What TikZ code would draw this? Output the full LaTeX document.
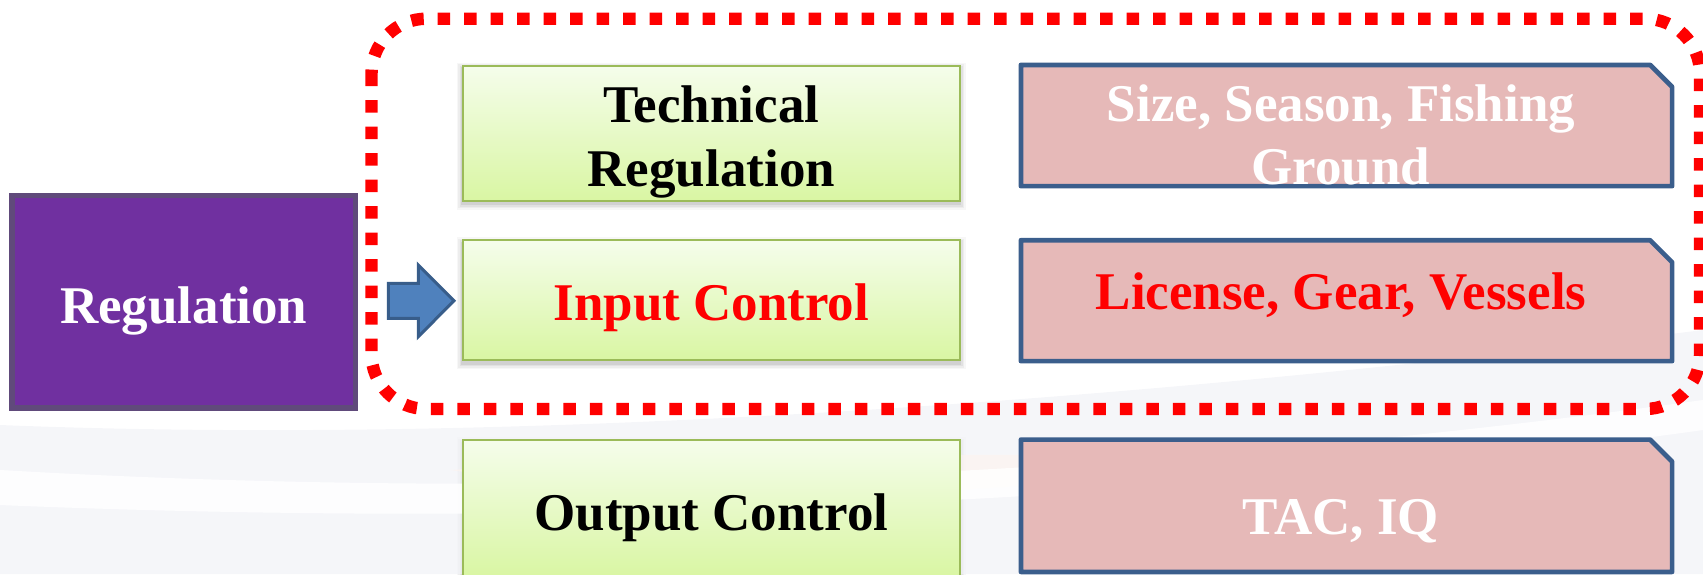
\documentclass[tikz,border=0pt]{standalone}
\usepackage{fontspec}
\setmainfont{Liberation Serif}
\usetikzlibrary{backgrounds}

\definecolor{regfill}{HTML}{7030A0}
\definecolor{regedge}{HTML}{604A7B}
\definecolor{greentop}{HTML}{F5FDEB}
\definecolor{greenbot}{HTML}{D9F6A3}
\definecolor{greenedge}{HTML}{9BBB59}
\definecolor{pinkfill}{HTML}{E6B9B8}
\definecolor{pinkedge}{HTML}{3B5E8C}
\definecolor{arrowfill}{HTML}{4F81BD}
\definecolor{arrowedge}{HTML}{385D8A}
\definecolor{swooshgray}{HTML}{F1F2F7}
\definecolor{swooshpeach}{HTML}{FDF3EE}

\begin{document}
\begin{tikzpicture}[x=0.5pt,y=-0.5pt,
  label font/.style={font=\bfseries\fontsize{26.5}{31.5}\selectfont},
  regbox/.style={draw=regedge, fill=regfill, line width=2.75pt, inner sep=0,
    minimum width=171.7pt, minimum height=106.25pt},
  greenbox/.style={draw=greenedge, line width=1pt, top color=greentop,
    bottom color=greenbot, inner sep=0, minimum width=248.65pt},
  pinkslot/.style={rectangle, inner sep=0, minimum width=325.2pt},
  pinkframe/.style={draw=pinkedge, fill=pinkfill, line width=2.35pt, line join=round},
  boxtext/.style={label font, anchor=base, inner sep=0},
  groupframe/.style={draw=red, line width=6.2pt, dash pattern=on 6.25pt off 7pt,
    rounded corners=27.5pt},
  blockarrow/.style={fill=arrowfill, draw=arrowedge, line width=1.5pt, line join=miter}
]
\useasboundingbox (0,0) rectangle (1703,574);
\clip (0,0) rectangle (1703,574);

% faint backdrop swooshes
\fill[swooshgray, opacity=0.7] (0,425) .. controls (500,445) and (1100,405) .. (1703,330)
  -- (1703,574) -- (0,574) -- cycle;
\fill[swooshpeach, opacity=0.6] (450,470) .. controls (700,455) and (1000,450) .. (1250,460)
  .. controls (1000,500) and (700,505) .. (450,470) -- cycle;
\fill[white, opacity=0.85] (0,470) .. controls (600,505) and (1200,470) .. (1703,400)
  -- (1703,430) .. controls (1200,500) and (600,530) .. (0,505) -- cycle;

% left box
\node[regbox] (reg) at (183.7,301.7) {};
\node[boxtext, text=white] (regtxt) at (183.7,323.5) {Regulation};

% middle column
\node[greenbox, minimum height=67.5pt] (tech) at (711.3,133.2) {};
\node[greenbox, minimum height=60pt]   (input) at (711.3,300) {};
\node[greenbox, minimum height=68.5pt] (output) at (711.3,508.5) {};

% right column: slots, then chamfered outlines drawn from their corners
\node[pinkslot, minimum height=60.2pt]  (techex) at (1346.5,125.5) {};
\node[pinkslot, minimum height=60.05pt] (inputex) at (1346.5,300.65) {};
\node[pinkslot, minimum height=65.75pt] (outputex) at (1346.5,505.75) {};
\foreach \p in {techex,inputex,outputex}{
  \draw[pinkframe] (\p.south west) -- (\p.north west) -- ([xshift=-11pt]\p.north east)
    -- ([yshift=-11pt]\p.north east) -- (\p.south east) -- cycle;
}

% texts
\node[boxtext] (techA) at (711.3,122.7) {Technical};
\node[boxtext] (techB) at (711.3,186.8) {Regulation};
\node[boxtext, text=red] (inputtxt) at (711.3,320) {Input Control};
\node[boxtext] (outputtxt) at (711.3,530) {Output Control};

\node[boxtext, text=white] (techexA) at (1341,121.6) {Size, Season, Fishing};
\node[boxtext, text=white] (techexB) at (1341,184.6) {Ground};
\node[boxtext, text=red] (inputextxt) at (1341,309.5) {License, Gear, Vessels};
\node[boxtext, text=white] (outputextxt) at (1341,534) {TAC, IQ};

% soft shadows under the green boxes
\begin{scope}[on background layer]
  \foreach \b in {tech,input,output}{
    \foreach \e/\o in {5/0.03, 3.5/0.04, 2/0.05, 0.5/0.07}{
      \fill[black, opacity=\o]
        ([shift={(-\e,3+\e)}]\b.south west) rectangle ([shift={(\e,3-\e)}]\b.north east);
    }
  }
\end{scope}

% block arrow into the grouped regulations
\draw[blockarrow] (388.3,283.3) -- (418.3,283.3) -- (418.3,265) -- (454,300.7)
  -- (418.3,336.7) -- (418.3,318.3) -- (388.3,318.3) -- cycle;

% dotted frame round the technical and input rows
\draw[groupframe] (371.5,18.7) rectangle (1700,409);
\end{tikzpicture}
\end{document}
